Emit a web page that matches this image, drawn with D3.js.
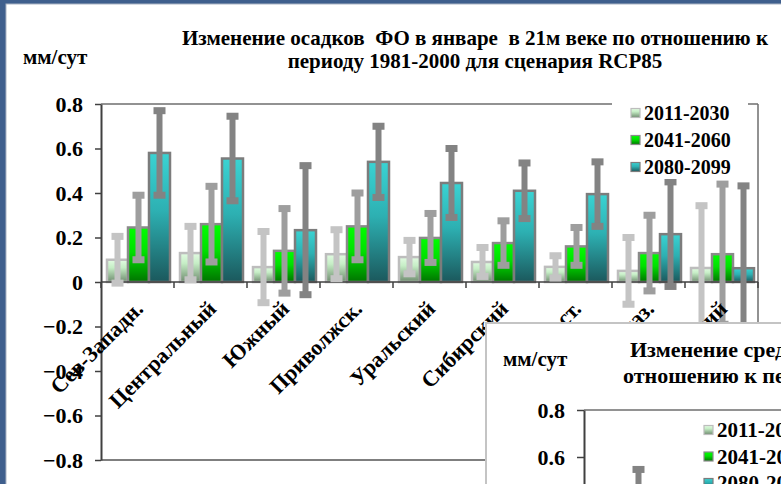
<!DOCTYPE html>
<html>
<head>
<meta charset="utf-8">
<script src="https://cdn.jsdelivr.net/npm/d3@7/dist/d3.min.js"></script>
<style>
html,body{margin:0;padding:0;background:#fff;overflow:hidden;}
svg{display:block;}
</style>
</head>
<body>
<script>
// ---------- data ----------
const categories = ["Сев-Западн.","Центральный","Южный","Приволжск.","Уральский","Сибирский","Дальневост.","Сев-Кавказ.","Крымский"];
const seriesNames = ["2011-2030","2041-2060","2080-2099"];
const values2011 = [0.100,0.130,0.067,0.125,0.112,0.090,0.068,0.050,0.063];
const errors2011 = [0.105,0.120,0.160,0.110,0.075,0.065,0.050,0.150,0.280];
const values2041 = [0.245,0.260,0.140,0.250,0.198,0.175,0.160,0.130,0.125];
const errors2041 = [0.145,0.170,0.190,0.150,0.110,0.100,0.085,0.170,0.315];
const values2080 = [0.580,0.555,0.233,0.540,0.445,0.410,0.395,0.215,0.062];
const errors2080 = [0.190,0.190,0.290,0.160,0.155,0.125,0.145,0.235,0.370];
const yTickValues = [0.8,0.6,0.4,0.2,0,-0.2,-0.4,-0.6,-0.8];
const titleLines = ["Изменение осадков  ФО в январе  в 21м веке по отношению к","периоду 1981-2000 для сценария RCP85"];
const unitLabel = "мм/сут";
// inset (second, overlapping chart) — only its first group is visible
const insetCategories = ["Сев-Западн."];
const insetValues2080 = [0.44];
const insetErrors2080 = [0.107];
const insetYTickValues = [0.8,0.6];
const insetTitleLines = ["Изменение среднегодовых осадков ФО в 21м веке по","отношению к периоду 1981-2000 для сценария RCP85"];

const FONT = "'Liberation Serif', 'Times New Roman', Tinos, serif";
const W = 781, H = 484;
const svg = d3.select("body").append("svg").attr("width", W).attr("height", H)
  .style("font-family", FONT).style("font-weight","bold");
const defs = svg.append("defs");
function T(sel, size){ return sel.style("font-family", FONT).style("font-weight","bold").style("font-size", size+"px").attr("fill","#000"); }

function grad(id, stops){
  const g = defs.append("linearGradient").attr("id", id).attr("x1",0).attr("y1",0).attr("x2",0).attr("y2",1);
  stops.forEach(s => g.append("stop").attr("offset", s[0]).attr("stop-color", s[1]));
}
grad("gLight", [[0,"#e2fbe2"],[0.35,"#c6eec6"],[1,"#6f8c6f"]]);
grad("gGreen", [[0,"#00ff00"],[0.45,"#00e000"],[1,"#007400"]]);
grad("gTeal",  [[0,"#3ad3d3"],[0.45,"#2db0b2"],[1,"#1b585c"]]);

const seriesStyle = [
  {fill:"url(#gLight)", stroke:"#bdbdbd", err:"#c4c4c4"},
  {fill:"url(#gGreen)", stroke:"#8a8a8a", err:"#9e9e9e"},
  {fill:"url(#gTeal)",  stroke:"#7c7c7c", err:"#838383"}
];

// ---------- frame ----------
svg.append("rect").attr("x",0).attr("y",0).attr("width",W).attr("height",H).attr("fill","#3f5f8d");
svg.append("rect").attr("x",6).attr("y",4).attr("width",W).attr("height",H).attr("fill","#fff").attr("stroke","#aab4c4").attr("stroke-width",1);

// ---------- main chart ----------
const plotL = 101, plotR = 758, plotT = 104, plotB = 460;
const y = d3.scaleLinear().domain([-0.8,0.8]).range([plotB, plotT]);
const x0 = d3.scaleBand().domain(categories).range([plotL, plotR]).padding(0);
const gw = x0.bandwidth();
const x1 = d3.scaleBand().domain(seriesNames).range([gw*6/73, gw*69/73]).padding(0);

// plot frame
const frame = svg.append("g");
frame.append("line").attr("x1",plotL).attr("x2",plotR).attr("y1",plotT).attr("y2",plotT).attr("stroke","#6e6e6e").attr("stroke-width",1.5);
frame.append("line").attr("x1",plotR).attr("x2",plotR).attr("y1",plotT).attr("y2",plotB).attr("stroke","#6e6e6e").attr("stroke-width",1.5);
frame.append("line").attr("x1",plotL).attr("x2",plotR).attr("y1",plotB).attr("y2",plotB).attr("stroke","#555").attr("stroke-width",1.5);

// y axis
const yAxis = d3.axisLeft(y).tickValues(yTickValues).tickSize(6).tickSizeOuter(0).tickPadding(12)
  .tickFormat(d => d === 0 ? "0" : d3.format(".1f")(d));
const gy = svg.append("g").attr("transform",`translate(${plotL},0)`).call(yAxis);
gy.attr("font-family", null).attr("font-size", null);
gy.select(".domain").attr("stroke","#404040").attr("stroke-width",2);
gy.selectAll(".tick line").attr("stroke","#404040").attr("stroke-width",1.5);
T(gy.selectAll(".tick text"), 22);

const allSeries = [
  {name:seriesNames[0], vals:values2011, errs:errors2011, st:seriesStyle[0]},
  {name:seriesNames[1], vals:values2041, errs:errors2041, st:seriesStyle[1]},
  {name:seriesNames[2], vals:values2080, errs:errors2080, st:seriesStyle[2]}
];

// bars
const barsG = svg.append("g");
allSeries.forEach(s => {
  barsG.selectAll(null).data(categories).enter().append("rect")
    .attr("x", c => x0(c) + x1(s.name))
    .attr("width", x1.bandwidth())
    .attr("y", (c,i) => Math.min(y(s.vals[i]), y(0)))
    .attr("height", (c,i) => Math.abs(y(s.vals[i]) - y(0)))
    .attr("fill", s.st.fill).attr("stroke", s.st.stroke).attr("stroke-width",2.5);
});

// x axis (zero line) with ticks at group boundaries
const xAxisG = svg.append("g");
xAxisG.append("line").attr("x1",plotL).attr("x2",plotR).attr("y1",y(0)).attr("y2",y(0)).attr("stroke","#404040").attr("stroke-width",1.5);
xAxisG.selectAll(null).data(categories.concat(["__end"])).enter().append("line")
  .attr("x1",(c,i)=> i < categories.length ? x0(c) : plotR)
  .attr("x2",(c,i)=> i < categories.length ? x0(c) : plotR)
  .attr("y1",y(0)).attr("y2",y(0)+6).attr("stroke","#404040").attr("stroke-width",1.5);

// error bars
function drawErr(g, xs, ys, s, cats, bw){
  cats.forEach((c,i) => {
    const cx = xs(c) + bw;
    const top = ys(s.vals[i] + s.errs[i]);
    const bot = ys(s.vals[i] - s.errs[i]);
    g.append("rect").attr("x",cx-3).attr("y",top).attr("width",6).attr("height",bot-top).attr("fill",s.st.err);
    g.append("rect").attr("x",cx-6).attr("y",top-3.5).attr("width",12).attr("height",7).attr("fill",s.st.err);
    g.append("rect").attr("x",cx-6).attr("y",bot-3.5).attr("width",12).attr("height",7).attr("fill",s.st.err);
  });
}
const errG = svg.append("g");
allSeries.forEach(s => drawErr(errG, c => x0(c) + x1(s.name), y, s, categories, x1.bandwidth()/2));

// x labels
T(svg.append("g").selectAll("text").data(categories).enter().append("text")
  .attr("transform", c => `translate(${x0(c)+gw/2+7},${y(0)+28}) rotate(-45)`)
  .attr("text-anchor","end").text(c => c), 22);

// legend
const leg = svg.append("g");
leg.append("rect").attr("x",612).attr("y",95).attr("width",136).attr("height",84).attr("fill","#fff");
allSeries.forEach((s,i) => {
  const cy = 113 + i*27;
  leg.append("rect").attr("x",631).attr("y",cy-4.5).attr("width",9).attr("height",9)
    .attr("fill",s.st.fill).attr("stroke",s.st.stroke).attr("stroke-width",1.2);
  T(leg.append("text").attr("x",644).attr("y",cy).attr("dy","0.35em").text(s.name), 20);
});

// titles
T(svg.append("text").attr("x",23).attr("y",64).text(unitLabel), 21);
T(svg.append("g").selectAll("text").data(titleLines).enter().append("text")
  .attr("x",475).attr("y",(d,i)=> 45 + i*23).attr("text-anchor","middle")
  .style("white-space","pre").text(d => d), 21);

// ---------- inset chart (overlapping, bottom right) ----------
const inset = svg.append("g");
inset.append("rect").attr("x",486).attr("y",323).attr("width",400).attr("height",200)
  .attr("fill","#fff").attr("stroke","#c4c4c4").attr("stroke-width",2);
const iL = 584, iT = 410;
const yi = d3.scaleLinear().domain([-0.8,0.8]).range([786, iT]);
const iGw = 68;
const xi0 = d3.scaleBand().domain(insetCategories).range([iL, iL + iGw*insetCategories.length]).padding(0);
const xi1 = d3.scaleBand().domain(seriesNames).range([iGw*6/73, iGw*69/73]).padding(0);
inset.append("line").attr("x1",iL).attr("x2",W+5).attr("y1",iT).attr("y2",iT).attr("stroke","#6e6e6e").attr("stroke-width",1.5);
const yiAxis = d3.axisLeft(yi).tickValues(insetYTickValues).tickSize(7).tickSizeOuter(0).tickPadding(12).tickFormat(d3.format(".1f"));
const gyi = inset.append("g").attr("transform",`translate(${iL},0)`).call(yiAxis);
gyi.attr("font-family", null).attr("font-size", null);
gyi.select(".domain").attr("stroke","#404040").attr("stroke-width",2);
gyi.selectAll(".tick line").attr("stroke","#404040").attr("stroke-width",1.5);
T(gyi.selectAll(".tick text"), 22);
drawErr(inset, c => xi0(c) + xi1(seriesNames[2]), yi,
  {vals:insetValues2080, errs:insetErrors2080, st:seriesStyle[2]}, insetCategories, xi1.bandwidth()/2);
T(inset.append("text").attr("x",503).attr("y",366).text(unitLabel), 21);
T(inset.selectAll(null).data(insetTitleLines).enter().append("text")
  .attr("x",(d,i)=> i===0 ? 630 : 623).attr("y",(d,i)=> 357 + i*26).text(d => d), 22);
allSeries.forEach((s,i) => {
  const cy = 430 + i*26.5;
  inset.append("rect").attr("x",704).attr("y",cy-4.5).attr("width",9).attr("height",9)
    .attr("fill",s.st.fill).attr("stroke",s.st.stroke).attr("stroke-width",1.2);
  T(inset.append("text").attr("x",717).attr("y",cy).attr("dy","0.35em").text(s.name), 21);
});
</script>
</body>
</html>
